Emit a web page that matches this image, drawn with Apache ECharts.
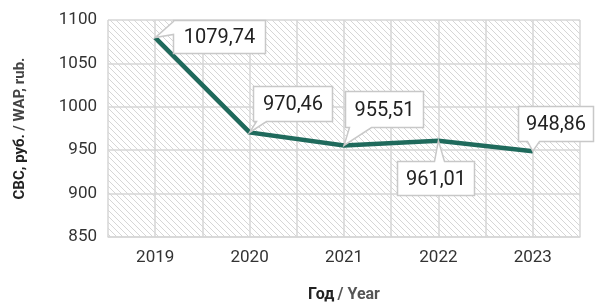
<!DOCTYPE html>
<html><head><meta charset="utf-8">
<script src="https://cdn.jsdelivr.net/npm/echarts@6/dist/echarts.min.js"></script>
<style>html,body{margin:0;padding:0;background:#fff}#c{width:600px;height:308px}</style>
</head><body><div id="c"></div>
<script>
var years = ['2019','2020','2021','2022','2023'];
var values = [1079.74, 970.46, 955.51, 961.01, 948.86];
var yTicks = [850, 900, 950, 1000, 1050, 1100];

var FONT = "Roboto, sans-serif";
function fmt(v){ return v.toFixed(2).replace('.', ','); }

// callout styling (box offset relative to the point, pointer side & base along edge)
var callouts = [
  {dx: 18, dy: -18, w: 92, h: 33, side: 'left', b0: 1, b1: 14},
  {dx: 3, dy: -46, w: 79, h: 35, side: 'bottom', b0: 3, b1: 13},
  {dx: 1, dy: -54, w: 78, h: 36, side: 'bottom', b0: 4, b1: 26},
  {dx: -41, dy: 20, w: 77, h: 34, side: 'top', b0: 37, b1: 47},
  {dx: -15, dy: -45, w: 75, h: 35, side: 'bottom', b0: 9, b1: 21}
];

var pc = document.createElement('canvas');
pc.width = 6; pc.height = 6;
var g = pc.getContext('2d');
g.fillStyle = '#ffffff'; g.fillRect(0,0,6,6);
g.strokeStyle = '#d6d6d6'; g.lineWidth = 1;
g.beginPath();
g.moveTo(-1,-1); g.lineTo(7,7);
g.moveTo(-4,2); g.lineTo(4,10);
g.moveTo(2,-4); g.lineTo(10,4);
g.stroke();

var chart = echarts.init(document.getElementById('c'), null, {renderer: 'canvas'});
chart.setOption({
  animation: false,
  grid: {left: 108, right: 20, top: 20, bottom: 70, show: true,
         backgroundColor: {image: pc, repeat: 'repeat'}, borderWidth: 0},
  xAxis: [{
    type: 'category', data: years, boundaryGap: true,
    axisLine: {show: true, lineStyle: {color: '#d6d6d6', width: 1.5}},
    axisTick: {show: false},
    axisLabel: {color: '#333', fontSize: 17, fontFamily: FONT, margin: 12},
    splitLine: {show: false},
    name: '{a|Год} {b|/ Year}', nameLocation: 'middle', nameGap: 50,
    nameTextStyle: {rich: {
      a: {fontSize: 16, fontWeight: 'bold', color: '#222', fontFamily: FONT},
      b: {fontSize: 16, fontWeight: 'bold', color: '#555', fontFamily: FONT}}}
  }, {
    type: 'value', min: 0, max: 10, interval: 1, show: true,
    position: 'bottom',
    axisLine: {show: false}, axisTick: {show: false}, axisLabel: {show: false},
    splitLine: {show: true, lineStyle: {color: '#d6d6d6', width: 1.5}}
  }],
  yAxis: {
    type: 'value', min: yTicks[0], max: yTicks[yTicks.length-1], interval: 50,
    axisLine: {show: false}, axisTick: {show: false},
    axisLabel: {color: '#333', fontSize: 17, fontFamily: FONT, margin: 11,
                formatter: function(v){ return String(v); }},
    splitLine: {lineStyle: {color: '#d6d6d6', width: 1.5}},
    name: '{a|СВС, руб.} {b|/ WAP, rub.}', nameLocation: 'middle', nameGap: 80,
    nameRotate: 90,
    nameTextStyle: {rich: {
      a: {fontSize: 15, fontWeight: 'bold', color: '#222', fontFamily: FONT},
      b: {fontSize: 15, fontWeight: 'bold', color: '#444', fontFamily: FONT}}}
  },
  series: [{
    type: 'line', data: values, xAxisIndex: 0,
    showSymbol: false, symbol: 'none',
    lineStyle: {color: '#1f6a5c', width: 4.5, join: 'miter'},
    z: 3
  }, {
    type: 'custom', xAxisIndex: 0, clip: false, z: 5,
    data: values.map(function(v, i){ return [i, v]; }),
    renderItem: function(params, api){
      var i = params.dataIndex;
      var c = callouts[i];
      var p = api.coord([api.value(0), api.value(1)]);
      var x = Math.round(p[0] + c.dx) + 0.5, y = Math.round(p[1] + c.dy) + 0.5;
      var w = c.w, h = c.h;
      var pts;
      if (c.side === 'left') {
        pts = [[x, y], [x+w, y], [x+w, y+h], [x, y+h], [x, y+c.b1], p, [x, y+c.b0]];
      } else if (c.side === 'bottom') {
        pts = [[x, y], [x+w, y], [x+w, y+h], [x+c.b1, y+h], p, [x+c.b0, y+h], [x, y+h]];
      } else {
        pts = [[x, y], [x+c.b0, y], p, [x+c.b1, y], [x+w, y], [x+w, y+h], [x, y+h]];
      }
      return {
        type: 'group',
        children: [{
          type: 'polygon', shape: {points: pts},
          style: {fill: '#ffffff', stroke: '#c8c8c8', lineWidth: 1.5, lineJoin: 'miter'}
        }, {
          type: 'text',
          style: {x: x + w/2, y: y + h/2 + 1, text: fmt(api.value(1)),
                  align: 'center', verticalAlign: 'middle',
                  fontSize: 20, fontFamily: FONT, fill: '#222'}
        }]
      };
    }
  }]
});
</script>
</body></html>
